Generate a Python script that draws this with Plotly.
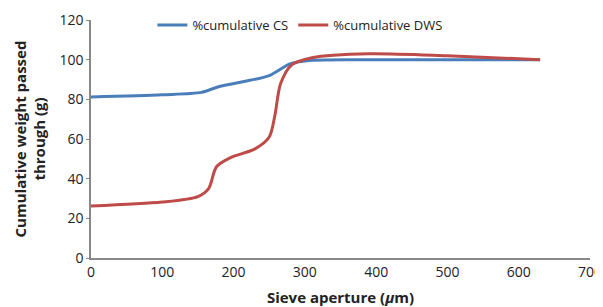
import plotly.graph_objects as go

cs_x = [0, 100, 155, 180, 215, 250, 280, 310, 400, 630]
cs_y = [81.2, 82.3, 83.5, 86.5, 89, 92, 98, 99.7, 100, 100]

dws_x = [0, 100, 150, 165, 176, 195, 230, 250, 258, 266, 282, 310, 390, 500, 630]
dws_y = [26.2, 28.2, 31, 35, 46, 50.5, 55, 61, 72, 88, 97.5, 101, 103, 102, 100]

x_ticks = [0, 100, 200, 300, 400, 500, 600, 700]
y_ticks = [0, 20, 40, 60, 80, 100, 120]

font_family = "Open Sans, Liberation Sans, sans-serif"

fig = go.Figure()
fig.add_trace(go.Scatter(x=cs_x, y=cs_y, mode="lines", name="%cumulative CS",
                         line=dict(color="#4a7ebb", width=3, shape="spline", smoothing=0.8)))
fig.add_trace(go.Scatter(x=dws_x, y=dws_y, mode="lines", name="%cumulative DWS",
                         line=dict(color="#be4b48", width=3, shape="spline", smoothing=0.8)))

# page body has an 8px margin, so the figure is sized to fit the remaining window
fig.update_layout(
    width=595, height=299,
    margin=dict(l=83, r=13, t=12, b=49, autoexpand=False),
    plot_bgcolor="white", paper_bgcolor="white",
    font=dict(family=font_family, size=14, color="#222"),
    showlegend=True,
    legend=dict(orientation="h", x=0.123, xanchor="left", y=0.979, yanchor="middle",
                font=dict(size=13), bgcolor="rgba(0,0,0,0)"),
    xaxis=dict(range=[0, 700], tickvals=x_ticks, showgrid=False, zeroline=False,
               showline=True, linecolor="#888", linewidth=1.5, automargin=False,
               ticks="", tickfont=dict(size=14),
               title=dict(text="<b>Sieve aperture (<i>μ</i>m)</b>", font=dict(size=15), standoff=13)),
    yaxis=dict(range=[0, 120], tickvals=y_ticks, showgrid=False, zeroline=False,
               showline=True, linecolor="#888", linewidth=1.5, automargin=False,
               ticks="outside", ticklen=3, tickcolor="#888", tickfont=dict(size=14),
               title=dict(text="<b>Cumulative weight passed<br>through (g)</b>", font=dict(size=15), standoff=10)),
)

fig.write_html("out.html")
